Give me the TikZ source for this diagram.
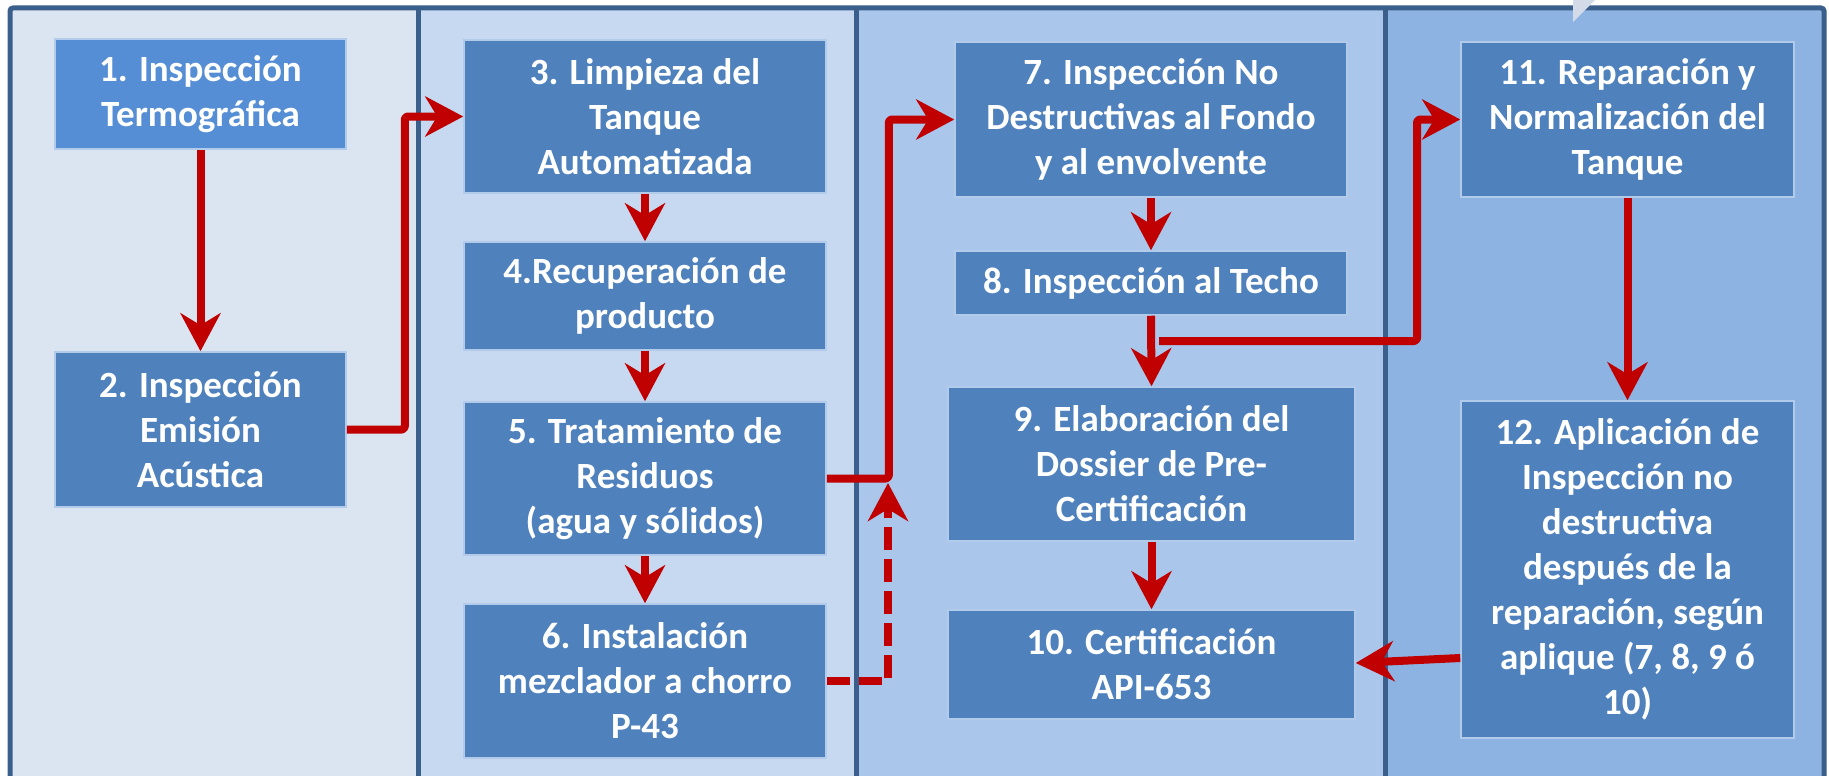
\documentclass[tikz,border=0pt]{standalone}
\usepackage{fontspec}
\setmainfont{Carlito}
\usetikzlibrary{arrows.meta,calc}
\definecolor{colA}{HTML}{DBE5F1}
\definecolor{colB}{HTML}{C6D9F1}
\definecolor{colC}{HTML}{AAC6EA}
\definecolor{colD}{HTML}{8DB3E2}
\definecolor{frame}{HTML}{3A5F8B}
\definecolor{boxblue}{HTML}{4F81BD}
\definecolor{boxlight}{HTML}{558ED5}
\definecolor{boxedge}{HTML}{B3CBEA}
\definecolor{arrred}{HTML}{C00000}
\definecolor{trigrey}{HTML}{D3DAE8}
\begin{document}
\begin{tikzpicture}[x=1pt,y=-1pt,
  box/.style={rectangle, fill=boxblue, draw=boxedge, line width=1.5pt, text=white,
    font=\fontsize{37}{45}\selectfont\bfseries, align=center, inner sep=0pt},
  arr/.style={draw=arrred, line width=8pt, line join=round,
    -{Stealth[length=38pt,width=40pt,inset=12pt]}},
  framestyle/.style={draw=frame, line width=5pt}]
\useasboundingbox (0,0) rectangle (1829,776);
% columns
\fill[colA] (10,8) rectangle (418,780);
\fill[colB] (418,8) rectangle (856,780);
\fill[colC] (856,8) rectangle (1385,780);
\fill[colD] (1385,8) rectangle (1824,780);
\draw[framestyle, rounded corners=3pt] (10,785) -- (10,8) -- (1824,8) -- (1824,785);
\draw[framestyle] (418,8) -- (418,785);
\draw[framestyle] (856,8) -- (856,785);
\draw[framestyle] (1385,8) -- (1385,785);
% boxes
\node[box, fill=boxlight, minimum width=291pt, minimum height=110pt] (B1) at (200.5,94) {1. Inspección\\Termográfica};
\node[box, minimum width=291pt, minimum height=155pt] (B2) at (200.5,429.5) {2. Inspección\\Emisión\\Acústica};
\node[box, minimum width=362pt, minimum height=153pt] (B3) at (645,116.5) {3. Limpieza del\\Tanque\\Automatizada};
\node[box, minimum width=362pt, minimum height=108pt] (B4) at (645,296) {4.Recuperación de\\producto};
\node[box, minimum width=362pt, minimum height=153pt] (B5) at (645,478.5) {5. Tratamiento de\\Residuos\\(agua y sólidos)};
\node[box, minimum width=362pt, minimum height=154pt] (B6) at (645,681) {6. Instalación\\mezclador a chorro\\P-43};
\node[box, minimum width=392pt, minimum height=155pt] (B7) at (1151,119.5) {7. Inspección No\\Destructivas al Fondo\\y al envolvente};
\node[box, minimum width=392pt, minimum height=64pt] (B8) at (1151,283) {8. Inspección al Techo};
\node[box, minimum width=407pt, minimum height=154pt] (B9) at (1151.5,464) {9. Elaboración del\\Dossier de Pre-\\Certificación};
\node[box, minimum width=407pt, minimum height=109pt] (B10) at (1151.5,664.5) {10. Certificación\\API-653};
\node[box, minimum width=333pt, minimum height=155pt] (B11) at (1627.5,119.5) {11. Reparación y\\Normalización del\\Tanque};
\node[box, minimum width=333pt, minimum height=337pt] (B12) at (1627.5,569.5) {12. Aplicación de\\Inspección no\\destructiva\\después de la\\reparación, según\\aplique (7, 8, 9 ó\\10)};
% connectors
\draw[arr] (B1.south) -- (B2.north);
\draw[arr, rounded corners=3pt] (B2.east) -- ++(58,0) |- (B3.west);
\draw[arr] (B3.south) -- (B4.north);
\draw[arr] (B4.south) -- (B5.north);
\draw[arr] (B5.south) -- (B6.north);
\coordinate (J) at (888,483);
\draw[arr, rounded corners=3pt] (B5.east) -- ++(62,0) |- (B7.west);
\draw[arr, dash pattern=on 23pt off 9pt] (B6.east) -| (J);
\draw[arr] (B7.south) -- (B8.north);
\draw[arr] (B8.south) -- (B9.north);
\coordinate (br) at (1159,341);
\draw[arr, rounded corners=3pt] (br) -- (1417,341) |- (B11.west);
\draw[arr] (B9.south) -- (B10.north);
\draw[arr] (B11.south) -- (B12.north);
\draw[arr] ($(B12.west)+(0,88.5)$) -- ($(B10.east)+(0,-1.5)$);
% grey callout tip
\fill[trigrey] (1573,-2) -- (1597,-2) -- (1573,22) -- cycle;
\end{tikzpicture}
\end{document}
